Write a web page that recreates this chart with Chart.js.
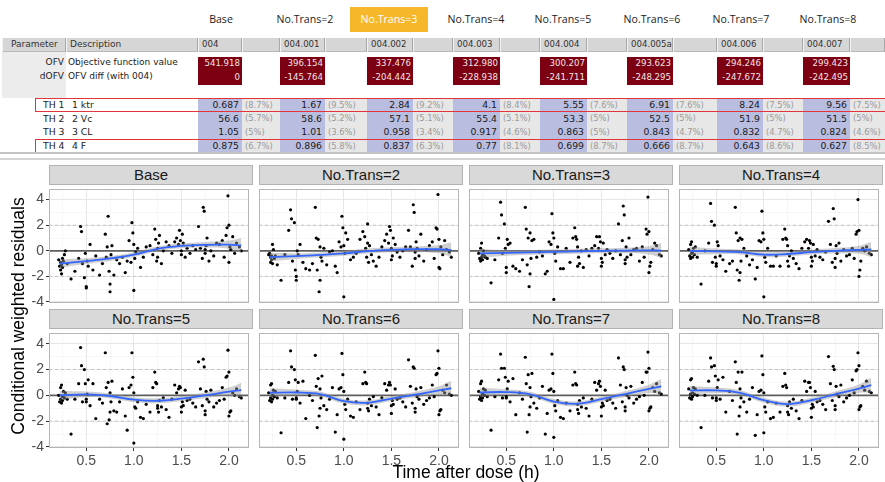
<!DOCTYPE html>
<html>
<head>
<meta charset="utf-8">
<script src="https://cdn.jsdelivr.net/npm/chart.js@4.4.1/dist/chart.umd.min.js"></script>
<style>
html,body{margin:0;padding:0;background:#fff;}
#page{position:relative;width:885px;height:482px;overflow:hidden;font-family:'DejaVu Sans',sans-serif;color:#222;}
.a{position:absolute;box-sizing:border-box;white-space:nowrap;overflow:hidden;}
canvas{position:absolute;}
.strip{background:#d9d9d9;border:1px solid #b3b3b3;text-align:center;font:15px 'Liberation Sans',Arial,sans-serif;color:#1a1a1a;line-height:18px;}
</style>
</head>
<body>
<div id="page"></div>
<script>
/* ─ table data ─ */
const models=['Base','No.Trans=2','No.Trans=3','No.Trans=4','No.Trans=5','No.Trans=6','No.Trans=7','No.Trans=8'];
const runs=['004','004.001','004.002','004.003','004.004','004.005a','004.006','004.007'];
const ofv=['541.918','396.154','337.476','312.980','300.207','293.623','294.246','299.423'];
const dofv=['0','-145.764','-204.442','-228.938','-241.711','-248.295','-247.672','-242.495'];
const thNames=['TH 1','TH 2','TH 3','TH 4'];
const thDesc=['1 ktr','2 Vc','3 CL','4 F'];
const thKtr=['0.687','1.67','2.84','4.1','5.55','6.91','8.24','9.56'];
const rseKtr=['8.7%','9.5%','9.2%','8.4%','7.6%','7.6%','7.5%','7.5%'];
const thVc=['56.6','58.6','57.1','55.4','53.3','52.5','51.9','51.5'];
const rseVc=['5.7%','5.2%','5.1%','5.1%','5%','5%','5%','5%'];
const thCL=['1.05','1.01','0.958','0.917','0.863','0.843','0.832','0.824'];
const rseCL=['5%','3.6%','3.4%','4.6%','5%','4.7%','4.7%','4.6%'];
const thF=['0.875','0.896','0.837','0.77','0.699','0.666','0.643','0.627'];
const rseF=['6.7%','5.8%','6.3%','8.1%','8.7%','8.7%','8.6%','8.5%'];

/* ─ residual data: time after dose, shared by all models ─ */
const tx=[
 0.21,0.22,0.23,0.23,0.24,0.24,0.25,0.25,0.26,0.27,0.28,0.30,0.34,0.38,
 0.42,0.44,0.45,0.46,0.48,0.49,0.50,0.50,0.51,0.52,0.54,0.57,0.60,0.64,
 0.67,0.70,0.71,0.72,0.73,0.74,0.75,0.75,0.76,0.77,0.79,0.82,0.85,0.88,
 0.91,0.93,0.95,0.97,0.98,0.99,1.00,1.00,1.01,1.02,1.04,1.07,1.10,1.13,
 1.17,1.20,1.22,1.23,1.24,1.25,1.25,1.26,1.27,1.29,1.31,1.34,1.37,1.40,
 1.43,1.45,1.47,1.48,1.49,1.50,1.50,1.51,1.52,1.54,1.56,1.59,1.62,1.65,
 1.68,1.70,1.72,1.73,1.74,1.75,1.75,1.76,1.77,1.79,1.81,1.84,1.87,1.90,
 1.93,1.95,1.97,1.98,1.99,2.00,2.00,2.01,2.02,2.04,2.06,2.08,2.11,2.13];

const resBase=[
 -0.7,-1.2,-1.5,-0.9,-1.8,-1.1,-0.6,-1.3,-0.8,-0.3,0.0,-1.0,-2.2,-1.6,
 -0.6,1.9,1.5,-1.0,-2.1,-0.2,-2.8,-2.9,-0.8,-1.2,0.5,-1.5,-0.4,-1.9,
 -1.0,1.3,-0.5,0.3,2.7,-1.6,-3.2,-2.6,-0.3,0.4,-1.9,-0.7,-1.0,-0.5,
 -1.7,-0.8,0.8,-0.9,2.2,1.4,-3.1,0.5,-0.6,-0.1,0.2,-1.3,-0.5,0.3,
 0.4,-0.3,1.7,0.9,-0.8,0.2,-0.5,0.6,1.2,-1.0,0.0,0.7,0.4,-0.2,
 0.7,1.0,0.5,1.6,0.8,-0.3,0.0,1.3,0.6,-0.5,0.2,-0.2,0.4,0.1,
 1.9,0.2,-0.6,3.4,3.1,0.1,-0.2,0.4,1.0,-0.8,0.0,-0.4,0.6,0.5,
 0.8,-0.5,1.2,1.8,4.3,2.0,-0.9,0.3,0.1,1.1,-0.2,0.6,0.3,0.0];
const resT2=[
 -0.3,-0.2,-0.5,-0.9,-0.7,-0.4,0.5,-1.0,0.1,-0.6,-0.4,-1.1,-2.3,-0.3,
 1.6,3.2,2.5,-0.8,2.2,-1.5,-2.3,-2.0,0.0,-0.3,0.5,-0.9,-1.4,-1.5,
 -1.0,3.4,1.0,-1.5,0.9,-3.2,-2.3,0.3,-0.5,-0.8,0.2,-1.1,-0.1,0.0,
 -1.2,-1.7,0.7,0.3,2.7,1.8,-3.6,0.4,-0.2,1.4,0.9,-0.7,-0.5,-0.2,
 0.9,1.5,1.1,0.2,-0.5,2.1,0.6,-0.9,0.4,-0.3,-0.8,-1.2,-0.5,0.3,
 0.8,1.3,0.6,1.9,1.6,0.2,-0.7,-0.4,1.0,0.5,-0.1,-0.5,0.0,0.3,
 1.6,0.3,-1.2,3.6,3.0,-0.6,-0.1,0.7,0.2,-0.4,1.3,-0.8,0.1,0.4,
 0.7,-0.6,1.8,1.7,4.4,0.9,-1.3,-1.4,0.3,-0.3,0.8,0.1,-0.1,-0.5];
const resT3=[
 -0.2,-0.6,-0.8,0.2,-0.5,0.6,-0.3,-0.7,0.0,-0.4,-0.5,-0.6,-2.5,-0.7,
 1.0,3.8,2.8,-0.2,2.1,0.2,-1.7,-1.3,0.9,0.5,0.6,-1.2,-1.4,-1.6,
 -0.7,3.4,1.7,-1.1,1.0,-2.8,-1.8,1.4,-0.6,0.8,0.9,-0.5,-0.1,-0.4,
 -1.8,-1.6,0.7,0.5,2.9,1.4,-3.8,1.0,-0.2,-0.8,0.3,-1.4,-1.4,0.2,
 -0.9,1.0,1.8,1.1,0.9,-1.2,0.3,-0.5,-1.0,0.0,-1.3,0.1,-0.4,0.2,
 0.4,1.1,0.2,1.1,0.7,-0.6,-1.2,-0.9,0.6,-0.3,0.1,-0.2,-0.6,0.0,
 2.1,-0.3,0.8,3.5,2.8,-0.7,-1.0,0.3,-0.5,1.0,-0.3,0.1,0.2,-0.8,
 0.3,-0.5,1.7,1.3,4.2,1.5,-1.7,-1.2,-0.9,0.1,0.6,0.4,-0.3,-0.4];
const resT4=[
 0.1,-0.4,-0.6,0.5,-0.2,0.7,-0.1,-0.5,0.2,-0.3,0.3,-0.5,-2.6,0.0,
 0.6,3.7,2.3,-0.9,2.0,-0.5,-1.2,-1.0,0.7,0.4,-0.4,-0.7,-1.6,-1.0,
 -0.8,3.4,1.4,-1.5,0.8,-2.3,-1.7,1.0,-0.8,0.9,0.2,-0.4,-1.1,-0.7,
 -2.2,-1.3,0.8,0.7,3.1,1.4,-3.6,0.9,-0.5,-0.9,0.2,-1.2,-1.2,-0.4,
 -1.2,0.9,1.7,1.0,0.9,-0.8,0.4,-1.2,-0.4,0.0,-0.6,-1.0,-1.4,0.2,
 0.7,0.9,0.2,0.8,0.6,-0.5,-1.2,-0.8,0.5,-0.4,0.1,-0.5,-0.7,-0.1,
 2.3,0.5,-0.9,3.3,2.5,-0.6,-1.3,0.4,-0.2,0.6,-0.8,0.1,-0.4,-0.3,
 0.2,-0.6,1.3,1.5,4.0,1.6,-2.0,-1.5,-0.8,0.2,0.0,0.3,-0.2,-0.3];
const resT5=[
 0.0,-0.5,-0.3,0.6,-0.6,0.8,-0.1,-0.4,0.3,-0.2,0.2,-0.3,-3.0,-0.3,
 0.9,3.7,2.3,-0.5,2.0,0.9,-0.3,-0.5,0.1,1.2,-0.8,0.9,-1.8,-0.3,
 -0.6,3.3,0.6,-2.2,1.0,-1.9,-1.3,0.2,-0.5,1.1,-1.2,-1.3,-0.5,0.5,
 -1.6,-2.7,0.6,0.8,3.3,1.4,-3.7,0.2,-0.9,-1.0,-0.5,-1.7,-1.8,-0.7,
 -1.3,0.6,1.8,1.0,0.9,-0.8,-1.0,-1.3,-0.4,-0.9,-0.2,-1.1,-1.7,-0.3,
 0.8,0.2,0.5,0.7,0.6,-0.9,-1.3,-0.5,-0.8,0.4,-0.4,-0.3,-0.6,-0.9,
 2.6,0.5,-0.8,2.8,2.2,-1.2,-1.5,0.3,-0.3,-0.5,0.4,-0.9,-0.6,-0.4,
 0.6,-0.3,1.4,1.5,3.5,1.8,-1.6,-1.3,-1.2,0.2,0.0,0.5,-0.1,-0.2];
const resT6=[
 0.2,-0.4,-0.2,0.8,-0.5,0.9,0.0,-0.3,0.4,-0.1,0.3,-0.2,-2.9,-0.2,
 1.0,3.45,2.2,-0.3,2.0,1.2,-0.2,-0.3,0.3,1.0,-0.6,1.1,-1.8,0.0,
 -0.4,3.1,0.7,-2.5,1.3,-1.6,-1.0,0.5,-0.2,1.5,-0.8,-1.1,-0.3,0.6,
 -2.85,-1.5,0.5,0.6,3.25,1.6,-3.4,0.3,-0.7,-1.1,-0.3,-1.6,-1.7,-0.5,
 -1.1,0.9,1.8,1.0,0.9,-0.6,-1.0,-1.2,-0.3,-0.8,-0.1,-0.9,-1.5,-0.2,
 0.9,0.4,0.8,1.0,0.8,-0.8,-1.4,-0.4,-0.7,0.5,-0.3,-0.2,-0.5,-0.9,
 2.75,0.7,-0.6,2.2,2.1,-1.0,-1.3,0.5,-0.1,-0.3,0.6,-0.7,-0.4,-0.2,
 0.8,-0.1,1.6,1.7,3.45,2.1,-1.5,-1.2,-1.1,0.4,0.2,0.8,0.1,0.0];
const resT7=[
 0.3,-0.3,-0.1,0.9,-0.4,1.1,0.1,-0.2,0.5,0.0,0.4,-0.1,-2.7,-0.1,
 1.2,3.2,2.1,-0.2,2.1,1.4,-0.1,-0.2,0.5,1.1,-0.5,1.3,-1.5,0.2,
 -0.3,2.95,0.9,-2.85,1.6,-1.5,-0.9,0.6,-0.1,1.7,-0.6,-1.0,-0.2,0.7,
 -3.0,-1.4,0.4,0.5,3.2,1.7,-3.25,0.3,-0.8,-1.2,-0.4,-1.7,-1.8,-0.6,
 -1.2,0.8,1.8,0.9,0.8,-0.7,-1.1,-1.4,-0.4,-0.9,-0.2,-1.0,-1.6,-0.3,
 1.0,0.4,0.9,1.1,0.7,-0.9,-1.6,-0.6,-0.8,0.4,-0.4,-0.3,-0.6,-1.0,
 2.9,0.8,-0.5,2.2,2.0,-0.9,-1.2,0.6,0.0,-0.2,0.7,-0.6,-0.3,-0.1,
 1.0,0.0,1.8,1.8,3.35,2.1,-1.2,-1.0,-0.9,0.6,0.3,0.9,0.2,0.1];
const resT8=[
 0.5,-0.2,0.1,1.2,-0.3,1.3,0.2,-0.1,0.6,0.1,0.5,0.0,-2.5,0.0,
 1.1,2.9,2.2,-0.2,2.3,1.5,-0.2,-0.4,0.6,1.2,-0.3,1.4,-1.3,0.3,
 -0.4,2.6,1.0,-3.0,1.8,-1.6,-0.9,0.5,-0.2,1.8,-0.5,-1.3,-0.3,0.6,
 -3.1,-1.5,0.3,0.4,3.05,1.6,-2.9,0.2,-0.9,-1.3,-0.5,-1.8,-1.7,-0.6,
 -1.3,0.7,1.7,0.8,0.6,-0.8,-1.3,-1.5,-0.5,-1.0,-0.3,-1.2,-1.8,-0.4,
 1.1,0.3,1.0,1.0,0.6,-1.0,-1.7,-0.7,-0.9,0.3,-0.5,-0.4,-0.7,-1.1,
 3.0,0.9,-0.4,2.25,2.0,-0.8,-1.1,0.7,0.1,-0.1,0.8,-0.5,-0.2,0.0,
 1.2,0.2,1.9,2.0,3.3,2.3,-1.1,-0.9,-0.8,0.7,0.4,1.1,0.3,0.2];
const residuals=[resBase,resT2,resT3,resT4,resT5,resT6,resT7,resT8];

/* ─ loess smooth ─ */
const knots=[0.22,0.5,0.75,1.0,1.25,1.5,1.75,2.0,2.13];
const fitBase=[-1.0,-0.8,-0.6,-0.3,0.15,0.38,0.47,0.48,0.42];
const fitT2=[-0.5,-0.42,-0.32,-0.2,-0.02,0.08,0.13,0.12,0.08];
const fitT3=[-0.2,-0.17,-0.12,-0.08,-0.04,0.0,0.02,0.03,0.02];
const fitT4=[0.0,-0.05,-0.1,-0.3,-0.25,-0.1,0.0,0.08,0.1];
const fitT5=[0.0,0.08,-0.05,-0.33,-0.42,-0.25,0.0,0.28,0.4];
const fitT6=[0.2,0.22,0.1,-0.45,-0.58,-0.25,0.05,0.38,0.55];
const fitT7=[0.22,0.25,0.08,-0.48,-0.65,-0.3,0.1,0.5,0.7];
const fitT8=[0.38,0.38,0.2,-0.38,-0.68,-0.38,0.08,0.52,0.8];
const fits=[fitBase,fitT2,fitT3,fitT4,fitT5,fitT6,fitT7,fitT8];
const band=[0.34,0.22,0.19,0.19,0.19,0.19,0.22,0.32,0.58];

const refLines=[-2,0,2];
const xTicks=[0.25,0.5,0.75,1.0,1.25,1.5,1.75,2.0];
const yTicks=[-4,-3,-2,-1,0,1,2,3,4];
const xMin=0.108,xMax=2.211,yMin=-4.08,yMax=4.83;

/* ─ helpers ─ */
const page=document.getElementById('page');
function box(x,y,w,h,css,txt){
  const d=document.createElement('div');
  d.className='a';
  d.style.cssText=`left:${x}px;top:${y}px;width:${w}px;height:${h}px;${css||''}`;
  if(txt!=null) d.textContent=txt;
  page.appendChild(d);
  return d;
}

/* ─ table ─ */
const valL=[198,280,367,453,540,627,717,803];
const valR=[242,325,413,500,587,673,763,850];
const hdrC=[221,305,389,476,563,652,741,828];

models.forEach((m,i)=>{
  const hi=i===2;
  box(hi?350:hdrC[i]-45,7,hi?78:90,25,
    `text-align:center;font:10.6px 'Open Sans',sans-serif;line-height:25px;${hi?'background:#f6b82a;color:#fff;':'color:#222;'}`,m);
});

box(2,38,883,14,'background:#d6d6d6;border-bottom:1px solid #b8b8b8');
const hcell=(x,w,t)=>box(x,38,w,14,'border-left:1px solid #f2f2f2;border-right:1px solid #a8a8a8;font-size:9px;line-height:13px;padding-left:3px;color:#333',t);
hcell(2,64,'Parameter').style.paddingLeft='8px';
hcell(66,132,'Description');
runs.forEach((r,i)=>{
  hcell(valL[i],valR[i]-valL[i],r).style.fontSize='8.6px';
  hcell(valR[i],(i<7?valL[i+1]:885)-valR[i],'');
});

box(2,52,64,46,'background:#ececec');
box(2,55,62,14,'text-align:right;font-size:9px;line-height:14px','OFV');
box(2,69,62,14,'text-align:right;font-size:9px;line-height:14px','dOFV');
box(68,55,130,14,'font-size:9px;line-height:14px','Objective function value');
box(68,69,130,14,'font-size:9px;line-height:14px','OFV diff (with 004)');
runs.forEach((r,i)=>{
  box(valL[i],57,valR[i]-valL[i],28,'background:#7c0012');
  box(valL[i],56,valR[i]-valL[i],14,'text-align:right;padding-right:2px;font-size:8.6px;line-height:14px;color:#f4e4e4',ofv[i]);
  box(valL[i],70,valR[i]-valL[i],14,'text-align:right;padding-right:2px;font-size:8.6px;line-height:14px;color:#f4e4e4',dofv[i]);
});

const thVals=[thKtr,thVc,thCL,thF], thRse=[rseKtr,rseVc,rseCL,rseF];
const rowTopT=[98,112,125,139], rowH=[14,13,14,14];
box(198,98,687,55,'background:#e7e7e7');
runs.forEach((r,i)=>box(valL[i],98,valR[i]-valL[i],55,'background:#b9bee1'));
thNames.forEach((n,k)=>{
  const y=rowTopT[k],h=rowH[k];
  box(43,y,28,h,`font-size:9.3px;line-height:${h}px`,n);
  box(72,y,120,h,`font-size:9.3px;line-height:${h}px`,thDesc[k]);
  runs.forEach((r,i)=>{
    box(valL[i],y,valR[i]-valL[i],h,`text-align:right;padding-right:3px;font-size:9.3px;line-height:${h}px;color:#1a1a1a`,thVals[k][i]);
    box(valR[i]+3,y,42,h,`font-size:8.4px;line-height:${h}px;color:#9a9a9a`,'('+thRse[k][i]+')');
  });
});
box(35,98,860,14,'border:1.5px solid #e3343c');
box(35,139,860,14,'border:1.5px solid #e3343c');
box(0,152,885,2,'background:#c4c4c4');
box(0,158,885,2,'background:#d4d4d4');

/* ─ panels ─ */
Chart.defaults.font.family="'Liberation Sans',Arial,sans-serif";
const colL=[49,259,469,679], rowTop=[185,329], plotH=[118,119], stripTop=[165,309];
const plotW=204, padL=40, padB=28;

const frame={id:'frame',afterDraw(c){
  const a=c.chartArea,ctx=c.ctx;
  ctx.save();ctx.strokeStyle='#b5b5b5';ctx.lineWidth=1;
  ctx.strokeRect(a.left+0.5,a.top+0.5,a.width-1,a.height-1);
  ctx.restore();
}};

models.forEach((m,i)=>{
  const col=i%4,row=i>>2;
  const L=colL[col],T=rowTop[row],H=plotH[row];
  const showY=col===0, showX=row===1;
  const cv=document.createElement('canvas');
  cv.width=plotW+padL; cv.height=H+padB;
  cv.style.left=(L-padL)+'px'; cv.style.top=T+'px';
  page.appendChild(cv);
  const ys=residuals[i], fit=fits[i];
  const majX=v=>Math.abs(v*2-Math.round(v*2))<1e-6;
  const majY=v=>Math.abs(v%2)<1e-6;
  new Chart(cv,{
    type:'scatter',
    data:{datasets:[
      ...refLines.map(v=>({type:'line',data:[{x:xMin,y:v},{x:xMax,y:v}],
        borderColor:v===0?'#5e5e5e':'#c4c4c4',borderWidth:v===0?1.8:1,borderDash:v===0?[]:[3,3],
        pointRadius:0,fill:false,order:5})),
      {data:tx.map((x,k)=>({x,y:ys[k]})),backgroundColor:'#000',borderColor:'#000',borderWidth:0,pointRadius:1.6,order:4},
      {type:'line',data:knots.map((x,k)=>({x,y:fit[k]+band[k]})),borderColor:'rgba(0,0,0,0)',borderWidth:1,pointRadius:0,tension:0.4,fill:false,order:3},
      {type:'line',data:knots.map((x,k)=>({x,y:fit[k]-band[k]})),borderColor:'rgba(0,0,0,0)',borderWidth:1,pointRadius:0,tension:0.4,fill:'-1',backgroundColor:'rgba(150,150,150,0.45)',order:3},
      {type:'line',data:knots.map((x,k)=>({x,y:fit[k]})),borderColor:'#3366ff',borderWidth:1.8,pointRadius:0,tension:0.4,fill:false,order:1}
    ]},
    options:{
      responsive:false,animation:false,devicePixelRatio:1,
      layout:{padding:0},
      plugins:{legend:{display:false},tooltip:{enabled:false}},
      scales:{
        x:{type:'linear',min:xMin,max:xMax,
          afterBuildTicks:s=>{s.ticks=xTicks.map(v=>({value:v}));},
          afterFit:s=>{s.height=padB;s.paddingLeft=0;s.paddingRight=0;},
          ticks:{display:showX,autoSkip:false,maxRotation:0,padding:2,color:'#4d4d4d',font:{size:14},
            callback:v=>majX(v)?v.toFixed(1):''},
          grid:{color:c=>majX(c.tick.value)?'#e6e6e6':'#f2f2f2',lineWidth:c=>majX(c.tick.value)?1:0.6,
            drawTicks:showX,tickLength:3,tickColor:c=>majX(c.tick.value)?'#333':'rgba(0,0,0,0)'},
          border:{display:false}},
        y:{type:'linear',min:yMin,max:yMax,
          afterBuildTicks:s=>{s.ticks=yTicks.map(v=>({value:v}));},
          afterFit:s=>{s.width=padL;s.paddingTop=0;s.paddingBottom=0;},
          ticks:{display:showY,autoSkip:false,padding:2,color:'#4d4d4d',font:{size:14},
            callback:v=>majY(v)?String(v):''},
          grid:{color:c=>majY(c.tick.value)?'#e6e6e6':'#f2f2f2',lineWidth:c=>majY(c.tick.value)?1:0.6,
            drawTicks:showY,tickLength:3,tickColor:c=>majY(c.tick.value)?'#333':'rgba(0,0,0,0)'},
          border:{display:false}}
      }
    },
    plugins:[frame]
  });
  const s=box(L,stripTop[row],plotW,20,'',m);
  s.classList.add('strip');
});

box(18-160,316-11,320,22,"transform:rotate(-90deg);text-align:center;font:17.5px 'Liberation Sans',Arial,sans-serif;line-height:22px;color:#000;overflow:visible",'Conditional weighted residuals');
box(266,461,400,22,"text-align:center;font:17.5px 'Liberation Sans',Arial,sans-serif;line-height:22px;color:#000",'Time after dose (h)');
</script>
</body>
</html>
